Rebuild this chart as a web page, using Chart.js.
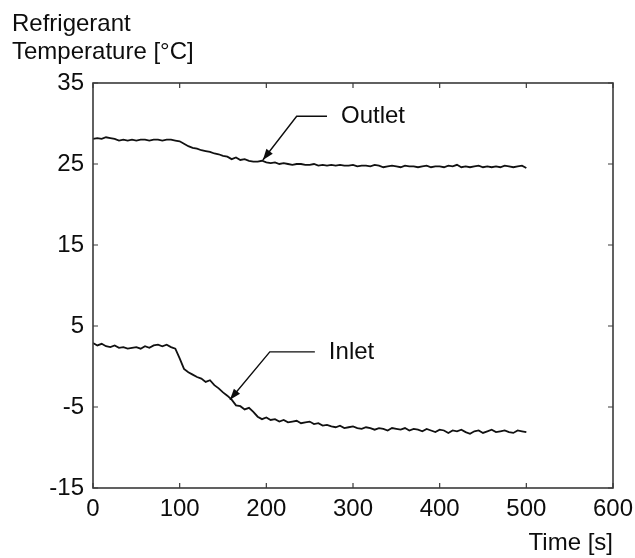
<!DOCTYPE html>
<html>
<head>
<meta charset="utf-8">
<script src="https://cdn.jsdelivr.net/npm/chart.js@4"></script>
<style>
  html, body { margin: 0; padding: 0; background: #fff; }
  #wrap { width: 635px; height: 558px; position: relative; }
</style>
</head>
<body>
<div id="wrap"><canvas id="c" width="635" height="558"></canvas></div>
<script>
// ---- data ----
const SAMPLE_STEP_S = 5; // one reading every 5 s, starting at t = 0
const seriesNames = ["Outlet", "Inlet"];
const outletTemp = [
  28.1, 28.2, 28.1, 28.3, 28.2, 28.1, 27.9, 28.0, 27.9, 28.0,
  27.9, 28.0, 28.0, 27.9, 28.0, 28.0, 27.9, 28.0, 28.0,
  27.9, 27.8, 27.5, 27.2, 27.0, 26.9, 26.7, 26.6, 26.5, 26.3,
  26.2, 26.0, 25.9, 25.6, 25.8, 25.5, 25.6, 25.4, 25.3, 25.3, 25.4, 25.2,
  25.1, 25.2, 25.0, 25.1, 25.0, 24.9, 25.0, 25.0, 24.9, 24.9,
  25.0, 24.8, 24.9, 24.8, 24.9, 24.8, 24.9, 24.8, 24.8, 24.9,
  24.7, 24.8, 24.8, 24.7, 24.9, 24.8, 24.6, 24.7, 24.8, 24.7,
  24.6, 24.8, 24.7, 24.7, 24.6, 24.7, 24.8, 24.6, 24.7, 24.7,
  24.6, 24.8, 24.7, 24.9, 24.6, 24.7, 24.6, 24.7, 24.8, 24.6,
  24.7, 24.6, 24.7, 24.6, 24.8, 24.7, 24.6, 24.7, 24.8, 24.5
];
const inletTemp = [
  2.9, 2.6, 2.8, 2.5, 2.4, 2.6, 2.3, 2.4, 2.2, 2.3,
  2.4, 2.2, 2.5, 2.3, 2.6, 2.7, 2.5, 2.7, 2.4,
  2.2, 1.0, -0.3, -0.7, -1.0, -1.3, -1.5, -1.9, -1.7, -2.3,
  -2.7, -3.2, -3.6, -4.1, -4.8, -4.9, -5.3, -5.1, -5.6, -6.2, -6.5, -6.3,
  -6.6, -6.5, -6.8, -6.6, -6.9, -6.8, -6.7, -7.0, -6.9, -6.8,
  -7.1, -7.0, -7.3, -7.2, -7.4, -7.5, -7.3, -7.6, -7.5, -7.4,
  -7.6, -7.7, -7.5, -7.6, -7.8, -7.6, -7.7, -7.9, -7.6, -7.7,
  -7.8, -7.6, -7.9, -7.7, -7.8, -8.0, -7.7, -7.9, -8.1, -7.8,
  -7.9, -8.2, -7.9, -8.0, -7.8, -8.1, -8.3, -8.0, -7.9, -8.2,
  -8.0, -7.8, -8.1, -8.0, -7.9, -8.1, -8.2, -7.9, -8.0, -8.1
];
const xTicks = [0, 100, 200, 300, 400, 500, 600];
const yTicks = [-15, -5, 5, 15, 25, 35];
const yTitleLines = ["Refrigerant", "Temperature [°C]"];
const xTitle = "Time [s]";

// callout labels: [text, lineEndX, lineY, elbowX, tipX, tipY] in data units
const callouts = [
  ["Outlet", 270, 30.9, 235, 196, 25.5],
  ["Inlet", 256, 1.8, 204, 158, -4.1]
];

// ---- chart ----
const FONT = "'Liberation Sans', Arial, sans-serif";
const INK = "#0d0d0d";
const FS = 24;

const toXY = arr => arr.map((v, i) => ({ x: i * SAMPLE_STEP_S, y: v }));

const framePlugin = {
  id: "frame",
  afterDatasetsDraw(chart) {
    const { ctx, chartArea: a, scales } = chart;
    const xs = scales.x, ys = scales.y;
    ctx.save();
    ctx.strokeStyle = "#3a3a3a";
    ctx.lineWidth = 1.6;
    ctx.strokeRect(a.left, a.top, a.right - a.left, a.bottom - a.top);
    ctx.lineWidth = 1.2;
    const L = 5;
    ctx.beginPath();
    xTicks.forEach(v => {
      const px = xs.getPixelForValue(v);
      ctx.moveTo(px, a.bottom); ctx.lineTo(px, a.bottom - L);
      ctx.moveTo(px, a.top); ctx.lineTo(px, a.top + L);
    });
    yTicks.forEach(v => {
      const py = ys.getPixelForValue(v);
      ctx.moveTo(a.left, py); ctx.lineTo(a.left + L, py);
      ctx.moveTo(a.right, py); ctx.lineTo(a.right - L, py);
    });
    ctx.stroke();

    // callouts
    ctx.fillStyle = INK;
    ctx.strokeStyle = INK;
    ctx.font = FS + "px " + FONT;
    ctx.textBaseline = "middle";
    ctx.textAlign = "left";
    callouts.forEach(([text, tx, ty, ex, px, py]) => {
      const X = xs.getPixelForValue(tx), Y = ys.getPixelForValue(ty);
      const EX = xs.getPixelForValue(ex);
      const PX = xs.getPixelForValue(px), PY = ys.getPixelForValue(py);
      ctx.fillText(text, X + 14, Y);
      ctx.lineWidth = 1.4;
      ctx.beginPath();
      ctx.moveTo(X, Y); ctx.lineTo(EX, Y); ctx.lineTo(PX, PY);
      ctx.stroke();
      const ang = Math.atan2(PY - Y, PX - EX);
      const hl = 11, hw = 4;
      const bx = PX - hl * Math.cos(ang), by = PY - hl * Math.sin(ang);
      ctx.beginPath();
      ctx.moveTo(PX, PY);
      ctx.lineTo(bx + hw * Math.sin(ang), by - hw * Math.cos(ang));
      ctx.lineTo(bx - hw * Math.sin(ang), by + hw * Math.cos(ang));
      ctx.closePath();
      ctx.fill();
    });

    // y-axis title (horizontal, top-left)
    ctx.textAlign = "left";
    ctx.textBaseline = "middle";
    yTitleLines.forEach((line, i) => ctx.fillText(line, 12, 24 + i * 28));
    ctx.restore();
  }
};

new Chart(document.getElementById("c"), {
  type: "line",
  data: {
    datasets: [
      { label: seriesNames[0], data: toXY(outletTemp), borderColor: "#111", borderWidth: 1.8, pointRadius: 0, tension: 0, fill: false },
      { label: seriesNames[1], data: toXY(inletTemp), borderColor: "#111", borderWidth: 1.8, pointRadius: 0, tension: 0, fill: false }
    ]
  },
  options: {
    responsive: false,
    animation: false,
    devicePixelRatio: 1,
    layout: { padding: { top: 83, right: 22, left: 0, bottom: 0 } },
    plugins: { legend: { display: false }, tooltip: { enabled: false } },
    scales: {
      x: {
        type: "linear",
        min: 0, max: 600,
        afterFit: s => { s.height = 70; s.paddingLeft = 0; s.paddingRight = 0; },
        afterBuildTicks: s => { s.ticks = xTicks.map(v => ({ value: v })); },
        grid: { display: false, drawTicks: false },
        border: { display: false },
        ticks: { color: INK, font: { family: FONT, size: FS }, padding: 7, maxRotation: 0 },
        title: { display: true, text: xTitle, align: "end", color: INK, font: { family: FONT, size: FS }, padding: { top: 0, bottom: 0 } }
      },
      y: {
        type: "linear",
        min: -15, max: 35,
        afterFit: s => { s.width = 93; s.paddingTop = 0; s.paddingBottom = 0; },
        afterBuildTicks: s => { s.ticks = yTicks.map(v => ({ value: v })); },
        grid: { display: false, drawTicks: false },
        border: { display: false },
        ticks: { color: INK, font: { family: FONT, size: FS }, padding: 9 }
      }
    }
  },
  plugins: [framePlugin]
});
</script>
</body>
</html>
